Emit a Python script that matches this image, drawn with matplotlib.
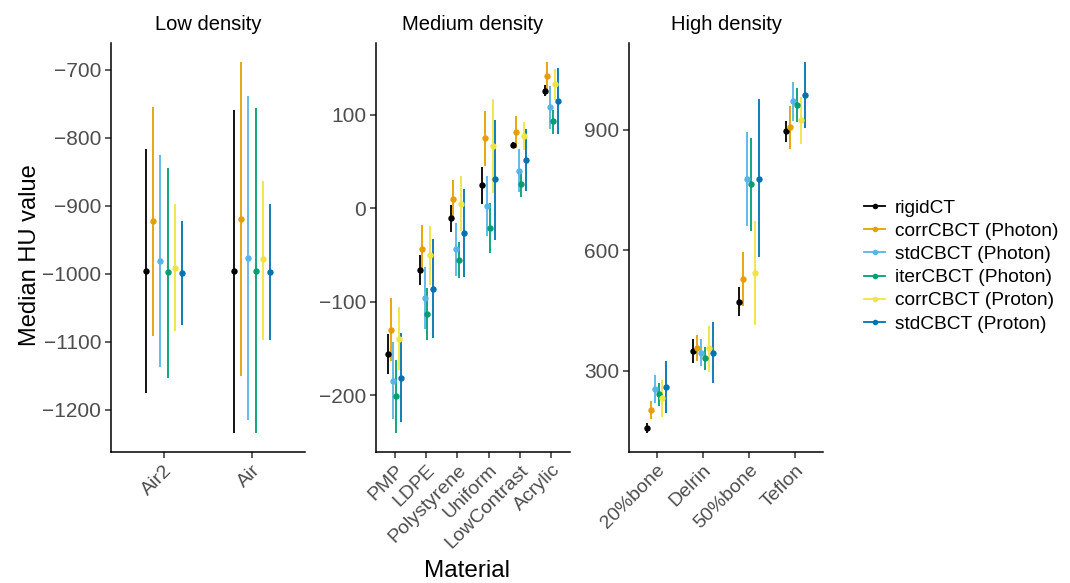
import matplotlib
matplotlib.use("Agg")
import matplotlib.pyplot as plt
from matplotlib.lines import Line2D
import numpy as np

plt.rcParams['font.family'] = ['Liberation Sans', 'DejaVu Sans']

series = ["rigidCT", "corrCBCT (Photon)", "stdCBCT (Photon)", "iterCBCT (Photon)",
          "corrCBCT (Proton)", "stdCBCT (Proton)"]
colors = ["#000000", "#E69F00", "#56B4E9", "#009E73", "#F0E442", "#0072B2"]

# ---- Low density ----
low_cats = ["Air2", "Air"]
low_med = [[-996, -996], [-923, -919], [-982, -977], [-998, -996], [-991, -979], [-999, -998]]
low_lo = [[-1175, -1234], [-1091, -1150], [-1138, -1216], [-1153, -1235], [-1085, -1097], [-1076, -1098]]
low_hi = [[-817, -759], [-755, -688], [-826, -738], [-844, -757], [-897, -863], [-922, -898]]
low_ticks = [-1200, -1100, -1000, -900, -800, -700]

# ---- Medium density ----
med_cats = ["PMP", "LDPE", "Polystyrene", "Uniform", "LowContrast", "Acrylic"]
med_med = [[-156, -66, -10, 25, 68, 126],
           [-130, -44, 10, 75, 82, 142],
           [-185, -96, -44, 2, 40, 108],
           [-201, -113, -55, -21, 26, 93],
           [-140, -50, 5, 67, 77, 133],
           [-182, -86, -26, 31, 52, 115]]
med_lo = [[-177, -82, -25, 5, 65, 120],
          [-164, -69, -10, 45, 65, 126],
          [-226, -129, -72, -30, 17, 85],
          [-241, -141, -75, -48, 12, 80],
          [-173, -82, -24, 16, 62, 116],
          [-229, -139, -74, -34, 18, 79]]
med_hi = [[-135, -50, 4, 44, 71, 132],
          [-96, -18, 30, 104, 99, 157],
          [-143, -63, -16, 34, 63, 131],
          [-162, -85, -36, 6, 40, 105],
          [-106, -19, 34, 117, 92, 149],
          [-134, -33, 21, 95, 85, 150]]
med_ticks = [-200, -100, 0, 100]

# ---- High density ----
high_cats = ["20%bone", "Delrin", "50%bone", "Teflon"]
high_med = [[158, 349, 471, 896],
            [203, 357, 529, 906],
            [254, 345, 776, 970],
            [242, 331, 764, 961],
            [231, 356, 544, 923],
            [259, 345, 778, 987]]
high_lo = [[144, 318, 436, 869],
           [179, 324, 462, 852],
           [219, 312, 660, 921],
           [213, 302, 647, 919],
           [186, 298, 414, 865],
           [194, 269, 582, 903]]
high_hi = [[171, 379, 507, 921],
           [225, 389, 595, 958],
           [289, 378, 893, 1018],
           [270, 359, 880, 1003],
           [277, 411, 673, 980],
           [323, 421, 975, 1069]]
high_ticks = [300, 600, 900]

panels = [
    ("Low density", low_cats, low_med, low_lo, low_hi, low_ticks),
    ("Medium density", med_cats, med_med, med_lo, med_hi, med_ticks),
    ("High density", high_cats, high_med, high_lo, high_hi, high_ticks),
]

W, H = 1070, 583
fig = plt.figure(figsize=(W / 100, H / 100), dpi=100)

ax_px = [(111, 194), (376, 194), (629, 194)]
top_px, bot_px = 43, 452
dodge = 0.5
grey = "#4D4D4D"

for (title, cats, med, lo, hi, ticks), (x0, w) in zip(panels, ax_px):
    ax = fig.add_axes([x0 / W, 1 - bot_px / H, w / W, (bot_px - top_px) / H])
    n = len(cats)
    xs = np.arange(1, n + 1)
    ns = len(series)
    for i in range(ns):
        off = (i - (ns - 1) / 2) * dodge / ns
        m = np.array(med[i]); l = np.array(lo[i]); h = np.array(hi[i])
        ax.vlines(xs + off, l, h, color=colors[i], lw=1.3, zorder=2)
        ax.plot(xs + off, m, 'o', color=colors[i], ms=4.6, mec='none', zorder=3)
    allv = np.concatenate([np.ravel(lo), np.ravel(hi)])
    r = allv.max() - allv.min()
    ax.set_ylim(allv.min() - 0.05 * r, allv.max() + 0.05 * r)
    ax.set_xlim(0.4, n + 0.6)
    ax.set_xticks(xs)
    ax.set_xticklabels(cats, rotation=45, ha='right', va='top', rotation_mode='anchor',
                       fontsize=14, color=grey)
    ax.set_yticks(ticks)
    ax.set_yticklabels([f"{t}".replace("-", "\u2212") for t in ticks], fontsize=15, color=grey)
    for s in ["top", "right"]:
        ax.spines[s].set_visible(False)
    for s in ["left", "bottom"]:
        ax.spines[s].set_linewidth(1.1)
    ax.tick_params(length=4, width=1.1, color="#333333", pad=3)
    ax.set_title(title, fontsize=14.5, pad=9)

fig.text(30 / W, 1 - 255 / H, "Median HU value", rotation=90, ha='center', va='center', fontsize=17)
fig.text(467 / W, 1 - 571 / H, "Material", ha='center', va='center', fontsize=17.5)

handles = [Line2D([0], [0], color=c, lw=1.3, marker='o', ms=4, mec='none') for c in colors]
fig.legend(handles, series, loc='center left', bbox_to_anchor=(864 / W, 1 - 266 / H),
           frameon=False, fontsize=13.8, handlelength=1.1, handletextpad=0.5,
           labelspacing=0.3, borderaxespad=0, borderpad=0)

fig.savefig("out.png", dpi=100)
